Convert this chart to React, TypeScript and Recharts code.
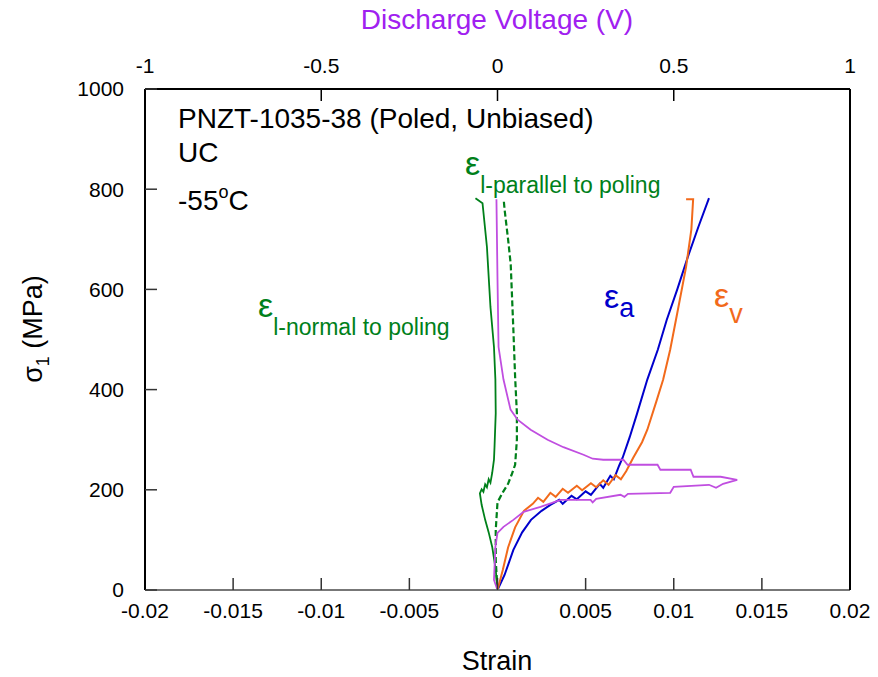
import { ComposedChart, Line, XAxis, YAxis, Customized } from "recharts";

// strain / stress pairs [strain, MPa]
const axialPts: number[][] = [
  [0, 0], [0.0004, 30], [0.0009, 80], [0.0014, 115], [0.0019, 140], [0.0025, 158], [0.003, 170],
  [0.0035, 180], [0.0037, 172], [0.0042, 188], [0.0045, 181], [0.005, 197], [0.0053, 190],
  [0.0058, 212], [0.006, 204], [0.0064, 228], [0.0066, 221], [0.0069, 248], [0.0071, 264],
  [0.0075, 305], [0.0079, 350], [0.0085, 420], [0.0091, 480], [0.0096, 539], [0.0102, 600],
  [0.0108, 665], [0.0114, 725], [0.012, 782],
];
const volPts: number[][] = [
  [0, 0], [0.0003, 40], [0.0006, 85], [0.001, 125], [0.0015, 158], [0.002, 172], [0.0023, 184],
  [0.0026, 176], [0.003, 194], [0.0033, 186], [0.0037, 202], [0.004, 194], [0.0045, 208],
  [0.0048, 199], [0.0053, 213], [0.0056, 205], [0.006, 219], [0.0063, 210], [0.0067, 229],
  [0.007, 221], [0.0073, 237], [0.0077, 264], [0.0082, 295], [0.0085, 320], [0.009, 375],
  [0.0094, 420], [0.0098, 480], [0.0102, 553], [0.0107, 645], [0.011, 720], [0.0111, 780],
  [0.0107, 780],
];
const normalPts: number[][] = [
  [0, 0], [-0.0001, 40], [-0.0003, 86], [-0.0005, 115], [-0.0007, 140], [-0.0009, 170],
  [-0.001, 193], [-0.0009, 201], [-0.0008, 196], [-0.0007, 211], [-0.0006, 205], [-0.0005, 221],
  [-0.0004, 214], [-0.0003, 234], [-0.0002, 260], [-0.00017, 285], [-0.0001, 353],
  [-0.00012, 420], [-0.0002, 485], [-0.0004, 565], [-0.0006, 685], [-0.00085, 772],
  [-0.00125, 782],
];
const parallelPts: number[][] = [
  [0, 0], [-0.0001, 60], [-0.0001, 120], [0, 175], [0.0003, 195], [0.0006, 212], [0.0008, 230],
  [0.001, 250], [0.0011, 300], [0.0011, 353], [0.001, 425], [0.0009, 520], [0.00075, 650],
  [0.0006, 700], [0.0004, 760], [0.00035, 780],
];
// discharge voltage [V, MPa]
const voltPts: number[][] = [
  [0, 0], [-0.01, 20], [-0.006, 86], [0, 114], [0.017, 126], [0.045, 140], [0.074, 156],
  [0.122, 166], [0.179, 180], [0.264, 180], [0.27, 175], [0.28, 182], [0.349, 190], [0.36, 186],
  [0.37, 192], [0.49, 194], [0.5, 206], [0.6, 210], [0.62, 204], [0.64, 212], [0.68, 220],
  [0.633, 226], [0.556, 226], [0.548, 240], [0.462, 240], [0.454, 250], [0.369, 250],
  [0.357, 260], [0.3, 260], [0.27, 262], [0.244, 270], [0.187, 285], [0.142, 300], [0.094, 320],
  [0.057, 340], [0.037, 360], [0.017, 420], [0.003, 485], [0, 620], [-0.003, 780],
];

const strainTicks = [-0.02, -0.015, -0.01, -0.005, 0, 0.005, 0.01, 0.015, 0.02];
const voltTicks = [-1, -0.5, 0, 0.5, 1];
const stressTicks = [0, 200, 400, 600, 800, 1000];

const toRows = (pts: number[][]) => pts.map(([x, y]) => ({ x, y }));

const FONT = "'Liberation Sans', Arial, sans-serif";
const GREEN = "#00801a";

const Notes = () => (
  <g fontFamily={FONT}>
    <text x={497} y={29} textAnchor="middle" fontSize={28} fill="#a020f0">Discharge Voltage (V)</text>
    <text x={497} y={670} textAnchor="middle" fontSize={27} fill="#000">Strain</text>
    <text transform="translate(42,329) rotate(-90)" textAnchor="middle" fontSize={27} fill="#000">
      σ<tspan fontSize={18} dy={7}>1</tspan><tspan dy={-7}> (MPa)</tspan>
    </text>
    <text x={178} y={128} fontSize={28} fill="#000">PNZT-1035-38 (Poled, Unbiased)</text>
    <text x={178} y={162} fontSize={28} fill="#000">UC</text>
    <text x={178} y={210} fontSize={28} fill="#000">
      -55<tspan fontSize={18} dy={-12}>o</tspan><tspan dy={12}>C</tspan>
    </text>
    <text x={465} y={175} fontSize={34} fill={GREEN}>
      ε<tspan fontSize={23} dy={18}>l-parallel to poling</tspan>
    </text>
    <text x={258} y={317} fontSize={34} fill={GREEN}>
      ε<tspan fontSize={23} dy={18}>l-normal to poling</tspan>
    </text>
    <text x={604} y={308} fontSize={34} fill="#0000cc">
      ε<tspan fontSize={27} dy={9}>a</tspan>
    </text>
    <text x={714} y={307} fontSize={34} fill="#f26a1b">
      ε<tspan fontSize={27} dy={16}>v</tspan>
    </text>
  </g>
);

export default function App() {
  const tickStyle = { fontSize: 21, fill: "#000", fontFamily: FONT };
  return (
    <div style={{ position: "absolute", left: 0, top: 0, background: "#fff" }}>
      <ComposedChart width={878} height={677} margin={{ top: 59, right: 27, bottom: 57, left: 85 }}>
        <XAxis
          xAxisId="s" dataKey="x" type="number" domain={[-0.02, 0.02]} ticks={strainTicks}
          allowDataOverflow height={30} tickSize={-12} tickMargin={25} tick={tickStyle}
          stroke="#777" axisLine={{ stroke: "#777", strokeWidth: 2 }} tickLine={{ stroke: "#333", strokeWidth: 1.5 }}
        />
        <XAxis
          xAxisId="v" orientation="top" dataKey="x" type="number" domain={[-1, 1]} ticks={voltTicks}
          allowDataOverflow height={30} tickSize={-12} tickMargin={28} tick={tickStyle}
          axisLine={{ stroke: "#000", strokeWidth: 2 }} tickLine={{ stroke: "#000", strokeWidth: 1.5 }}
        />
        <YAxis
          yAxisId="l" type="number" domain={[0, 1000]} ticks={stressTicks} allowDataOverflow
          width={60} tickSize={-12} tickMargin={33} tick={tickStyle}
          axisLine={{ stroke: "#000", strokeWidth: 2 }} tickLine={{ stroke: "#333", strokeWidth: 1.5 }}
        />
        <YAxis
          yAxisId="r" orientation="right" type="number" domain={[0, 1000]} ticks={stressTicks}
          allowDataOverflow width={1} tickSize={-12} tick={false}
          axisLine={{ stroke: "#000", strokeWidth: 2 }} tickLine={{ stroke: "#333", strokeWidth: 1.5 }}
        />
        <Line data={toRows(normalPts)} dataKey="y" xAxisId="s" yAxisId="l" stroke={GREEN} strokeWidth={1.8} dot={false} isAnimationActive={false} />
        <Line data={toRows(parallelPts)} dataKey="y" xAxisId="s" yAxisId="l" stroke={GREEN} strokeWidth={2.2} strokeDasharray="6 3" dot={false} isAnimationActive={false} />
        <Line data={toRows(axialPts)} dataKey="y" xAxisId="s" yAxisId="l" stroke="#0000cc" strokeWidth={2} dot={false} isAnimationActive={false} />
        <Line data={toRows(volPts)} dataKey="y" xAxisId="s" yAxisId="l" stroke="#f26a1b" strokeWidth={2} dot={false} isAnimationActive={false} />
        <Line data={toRows(voltPts)} dataKey="y" xAxisId="v" yAxisId="l" stroke="#c04ee0" strokeWidth={1.8} dot={false} isAnimationActive={false} />
        <Customized component={Notes} />
      </ComposedChart>
    </div>
  );
}
